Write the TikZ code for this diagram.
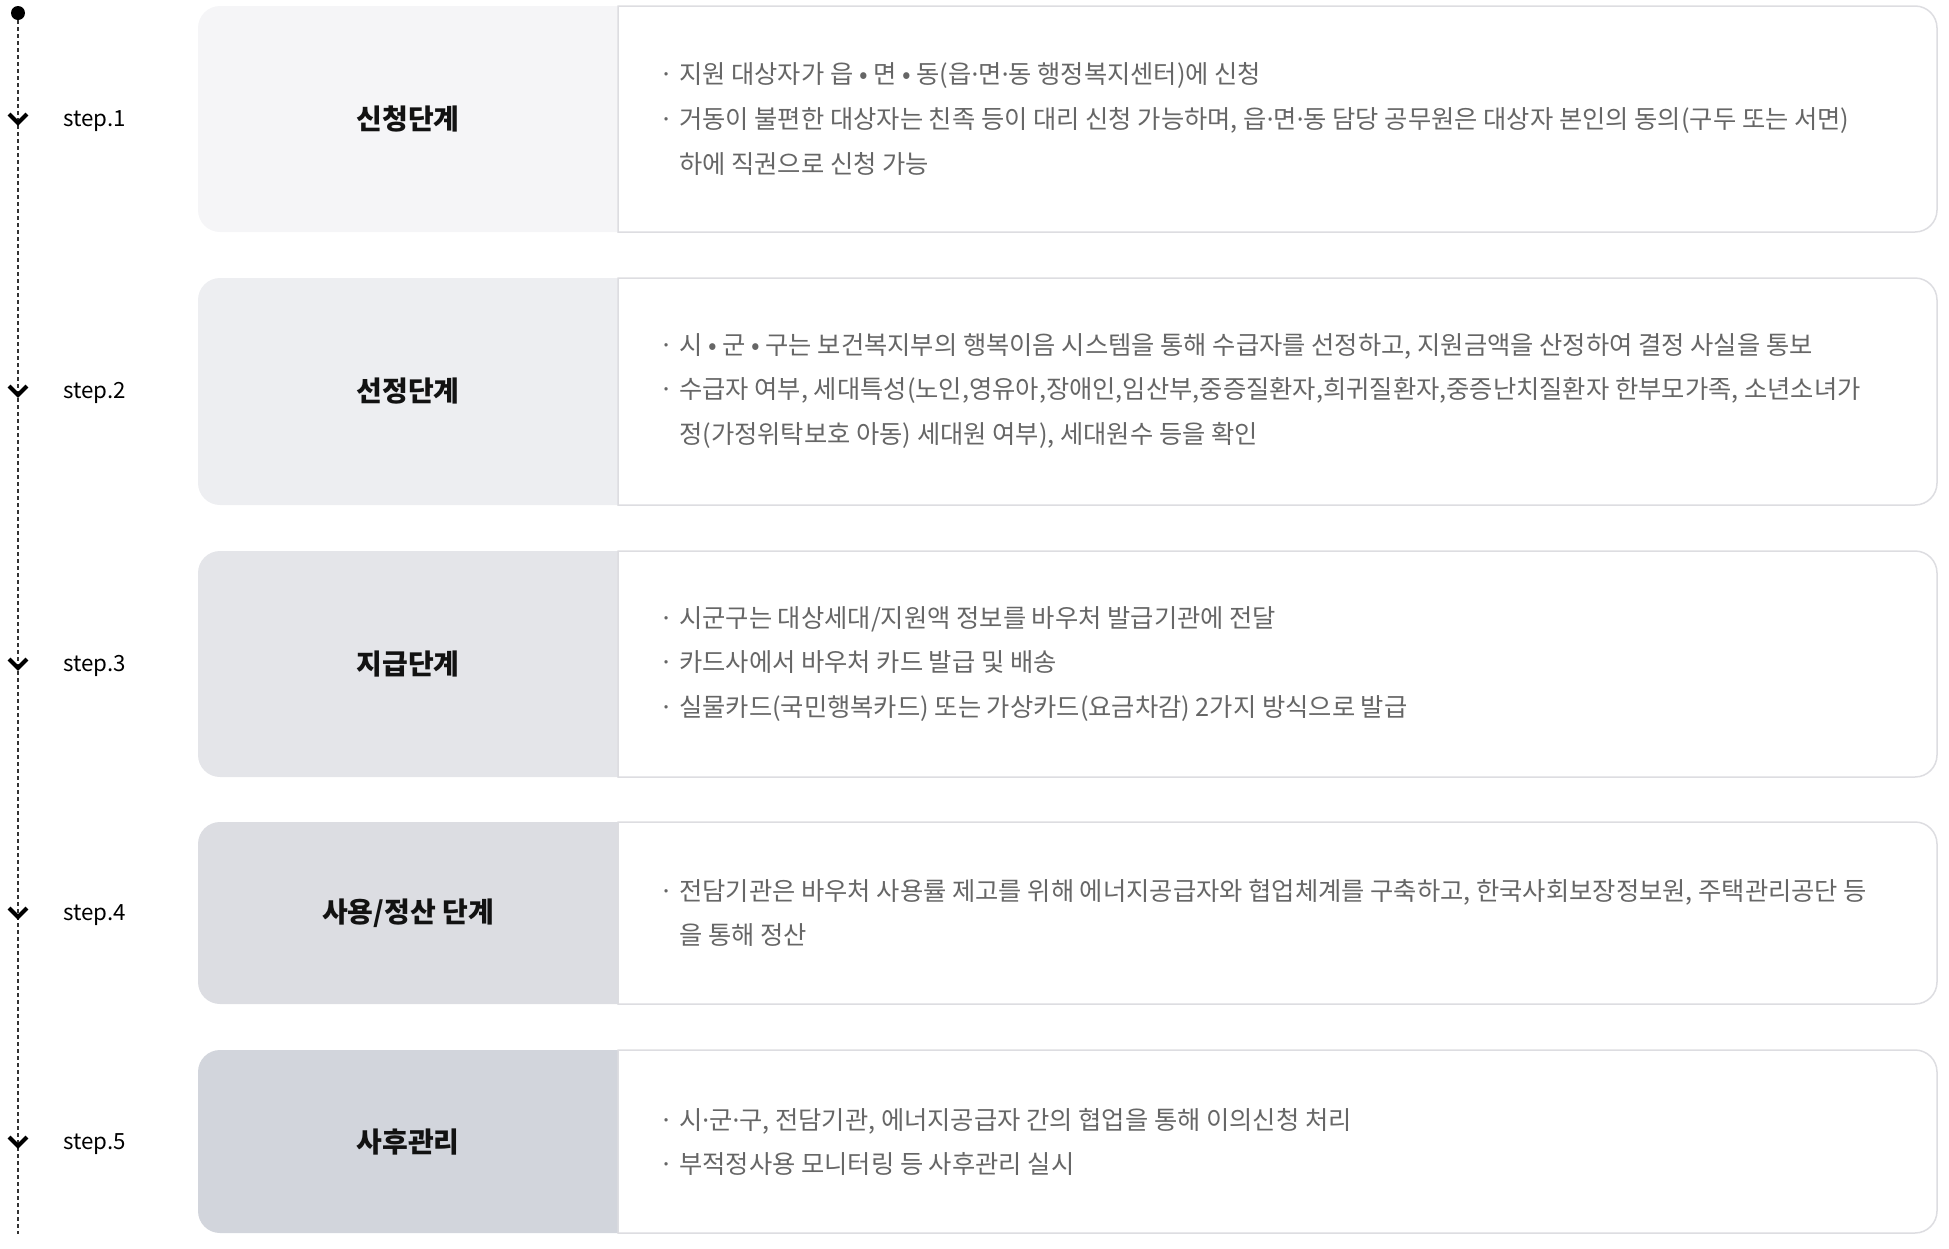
\documentclass[tikz,border=0pt]{standalone}
\usepackage{fontspec}
\setmainfont{Noto Sans CJK KR}
\newfontfamily\dotfont{Noto Sans}
\usetikzlibrary{positioning}

\definecolor{cardA}{HTML}{F5F5F7}
\definecolor{cardB}{HTML}{EDEEF1}
\definecolor{cardC}{HTML}{E4E5E9}
\definecolor{cardD}{HTML}{DCDDE2}
\definecolor{cardE}{HTML}{D2D5DC}
\definecolor{cardline}{HTML}{DDDDE1}
\definecolor{bodytext}{HTML}{666666}

\tikzset{
	timeline/.style={dash pattern=on 4pt off 3pt, line width=1.3pt, black!80},
	chevron/.style={line width=4pt},
	steplabel/.style={anchor=west, inner sep=0pt, font=\fontsize{22.3}{22.3}\selectfont},
	cardtitle/.style={inner sep=0pt, font=\fontsize{28}{28}\selectfont\bfseries, text=black!93},
	cardbody/.style={anchor=west, inner sep=0pt, align=left, text=bodytext, font=\fontsize{25.3}{44.8}\selectfont},
	cardframe/.style={draw=cardline, line width=1.5pt, fill=white}
}
\newcommand{\bul}{\makebox[20pt][l]{·}}
\newcommand{\ind}{\hspace*{20pt}}
\newcommand{\md}{{\dotfont ·}}

\begin{document}
\begin{tikzpicture}[x=1pt, y=-1pt]
	\useasboundingbox (0,0) rectangle (1949,1248);

	% Timeline on the left
	\node[circle, fill=black, inner sep=0pt, minimum size=14pt] (start) at (18,13) {};
	\coordinate (end) at (18,1234);
	\draw[timeline] (start) -- (end);

	% Cards: top / bottom / fill of the title part
	\foreach \ytop/\ybot/\col in {6/232/cardA, 278/505/cardB, 551/777/cardC, 822/1004/cardD, 1050/1233/cardE}{
		\fill[\col] (618,\ytop) -- (220,\ytop) arc[start angle=90, end angle=180, radius=22pt]
			-- (198,\ybot-22) arc[start angle=180, end angle=270, radius=22pt] -- (618,\ybot) -- cycle;
		\draw[cardframe] (618,\ytop) -- (1915,\ytop) arc[start angle=90, end angle=0, radius=22pt]
			-- (1937,\ybot-22) arc[start angle=0, end angle=-90, radius=22pt] -- (618,\ybot) -- cycle;
	}

	% Step markers
	\foreach \n/\y in {1/119, 2/391, 3/664, 4/913, 5/1142}{
		\coordinate (m\n) at (18,\y);
		\draw[chevron] ([shift={(-9,-5)}]m\n) -- ([shift={(0,4)}]m\n) -- ([shift={(9,-5)}]m\n);
		\node[steplabel] (s\n) at (63,\y+2) {step.\n};
	}

	% Titles
	\node[cardtitle] (t1) at (408,119) {신청단계};
	\node[cardtitle] (t2) at (408,391) {선정단계};
	\node[cardtitle] (t3) at (408,664) {지급단계};
	\node[cardtitle] (t4) at (408,913) {사용/정산 단계};
	\node[cardtitle] (t5) at (408,1142) {사후관리};

	% Descriptions
	\node[cardbody] (b1) at (659,119) {\bul 지원 대상자가 읍 • 면 • 동(읍\md 면\md 동 행정복지센터)에 신청\\
		\bul 거동이 불편한 대상자는 친족 등이 대리 신청 가능하며, 읍\md 면\md 동 담당 공무원은 대상자 본인의 동의(구두 또는 서면)\\
		\ind 하에 직권으로 신청 가능};
	\node[cardbody] (b2) at (659,391) {\bul 시 • 군 • 구는 보건복지부의 행복이음 시스템을 통해 수급자를 선정하고, 지원금액을 산정하여 결정 사실을 통보\\
		\bul 수급자 여부, 세대특성(노인,영유아,장애인,임산부,중증질환자,희귀질환자,중증난치질환자 한부모가족, 소년소녀가\\
		\ind 정(가정위탁보호 아동) 세대원 여부), 세대원수 등을 확인};
	\node[cardbody] (b3) at (659,664) {\bul 시군구는 대상세대/지원액 정보를 바우처 발급기관에 전달\\
		\bul 카드사에서 바우처 카드 발급 및 배송\\
		\bul 실물카드(국민행복카드) 또는 가상카드(요금차감) 2가지 방식으로 발급};
	\node[cardbody] (b4) at (659,913) {\bul 전담기관은 바우처 사용률 제고를 위해 에너지공급자와 협업체계를 구축하고, 한국사회보장정보원, 주택관리공단 등\\
		\ind 을 통해 정산};
	\node[cardbody] (b5) at (659,1142) {\bul 시\md 군\md 구, 전담기관, 에너지공급자 간의 협업을 통해 이의신청 처리\\
		\bul 부적정사용 모니터링 등 사후관리 실시};
\end{tikzpicture}
\end{document}
